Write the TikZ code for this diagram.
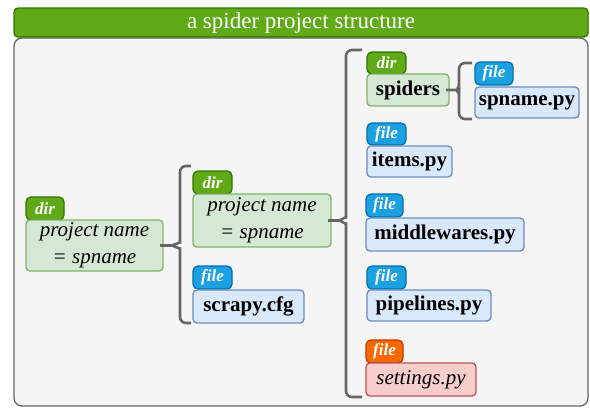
\documentclass[tikz,border=0pt]{standalone}
\usepackage{fontspec}
\setmainfont{Liberation Serif}[
  BoldFont={Liberation Serif Bold},
  ItalicFont={Liberation Serif Italic},
  BoldItalicFont={Liberation Serif Bold Italic}]
\usetikzlibrary{calc}
\definecolor{dirtagfill}{HTML}{60A917}
\definecolor{dirtagline}{HTML}{2D7600}
\definecolor{dirboxfill}{HTML}{D5E8D4}
\definecolor{dirboxline}{HTML}{82B366}
\definecolor{filetagfill}{HTML}{1BA1E2}
\definecolor{filetagline}{HTML}{006EAF}
\definecolor{fileboxfill}{HTML}{DAE8FC}
\definecolor{fileboxline}{HTML}{6C8EBF}
\definecolor{settagfill}{HTML}{FA6800}
\definecolor{settagline}{HTML}{C73500}
\definecolor{setboxfill}{HTML}{F8CECC}
\definecolor{setboxline}{HTML}{B85450}
\definecolor{panelfill}{HTML}{F5F5F5}
\definecolor{panelline}{HTML}{666666}
\definecolor{bracecol}{HTML}{666666}
\newcommand\mycurly[4]{% #1 tip, #2 spine coordinate, #3 top end, #4 bottom end
  \draw[brc] (#3) -- (#2 |- #3) -- ($(#2 |- #1)+(0,-9)$) to[out=-90,in=0,looseness=0.9] ($(#1)+(3,0)$) -- (#1)
    -- ($(#1)+(3,0)$) to[out=0,in=90,looseness=0.9] ($(#2 |- #1)+(0,9)$) -- (#2 |- #4) -- (#4);}
\begin{document}
\begin{tikzpicture}[x=1pt,y=-1pt,
  base/.style={anchor=north west, inner sep=0pt, outer sep=0pt, line width=1.3pt},
  box/.style={base, rounded corners=4pt, align=center, font=\fontsize{21}{27}\selectfont},
  tag/.style={base, rounded corners=5pt, text=white, font=\fontsize{17}{17}\selectfont\bfseries\itshape},
  dirtag/.style={tag, fill=dirtagfill, draw=dirtagline},
  filetag/.style={tag, fill=filetagfill, draw=filetagline},
  settag/.style={tag, fill=settagfill, draw=settagline},
  dirbox/.style={box, fill=dirboxfill, draw=dirboxline},
  filebox/.style={box, fill=fileboxfill, draw=fileboxline, font=\fontsize{21}{27}\selectfont\bfseries},
  setbox/.style={box, fill=setboxfill, draw=setboxline, font=\fontsize{21}{27}\selectfont\itshape},
  brc/.style={draw=bracecol, line width=2.6pt, rounded corners=6pt},
  sz/.style 2 args={minimum width=#1pt, minimum height=#2pt}
]
\useasboundingbox (0,0) rectangle (590,408);
% panel and title
\node[base, sz={574}{368}, fill=panelfill, draw=panelline, rounded corners=8pt] (panel) at (14,38) {};
\node[base, sz={574}{29}, fill=dirtagfill, draw=dirtagline, rounded corners=4pt, text=white,
      font=\fontsize{23}{23}\selectfont] (title) at (14,8) {a spider project structure};
% root
\node[dirtag, sz={38}{23}] (roottag) at (26,197) {dir};
\node[dirbox, sz={137}{51}, font=\fontsize{21}{27}\selectfont\itshape] (root) at (26,220) {project name\\= spname};
% level 2
\node[dirtag, sz={39}{23}] (projtag) at (193,171) {dir};
\node[dirbox, sz={138}{53}, font=\fontsize{21}{27}\selectfont\itshape] (proj) at (193,194) {project name\\= spname};
\node[filetag, sz={39}{23}] (cfgtag) at (193,266) {file};
\node[filebox, sz={111}{33}] (cfg) at (193,290) {scrapy.cfg};
% level 3
\node[dirtag, sz={39}{22}] (spiderstag) at (367,52) {dir};
\node[dirbox, sz={82}{32}, font=\fontsize{21}{27}\selectfont\bfseries] (spiders) at (367,74) {spiders};
\node[filetag, sz={38}{23}] (spnametag) at (475,62) {file};
\node[filebox, sz={104}{31}] (spname) at (475,87) {spname.py};
\node[filetag, sz={39}{22}] (itemstag) at (367,123) {file};
\node[filebox, sz={85}{31}] (items) at (367,146) {items.py};
\node[filetag, sz={37}{23}] (midtag) at (366,194) {file};
\node[filebox, sz={158}{33}] (mid) at (366,218) {middlewares.py};
\node[filetag, sz={39}{23}] (pipetag) at (367,266) {file};
\node[filebox, sz={124}{31}] (pipe) at (367,290) {pipelines.py};
\node[settag, sz={37}{23}] (settag) at (366,340) {file};
\node[setbox, sz={110}{33}] (set) at (366,363) {settings.py};
% braces
\coordinate (s1) at (180,0);
\coordinate (t1) at (191,166);
\coordinate (u1) at (191,323);
\mycurly{root.east}{s1}{t1}{u1}
\coordinate (s2) at (346,0);
\coordinate (t2) at (362,50);
\coordinate (u2) at (362,397);
\mycurly{proj.east}{s2}{t2}{u2}
\coordinate (s3) at (459,0);
\coordinate (t3) at (472,63);
\coordinate (u3) at (472,119);
\mycurly{spiders.east}{s3}{t3}{u3}
\end{tikzpicture}
\end{document}
